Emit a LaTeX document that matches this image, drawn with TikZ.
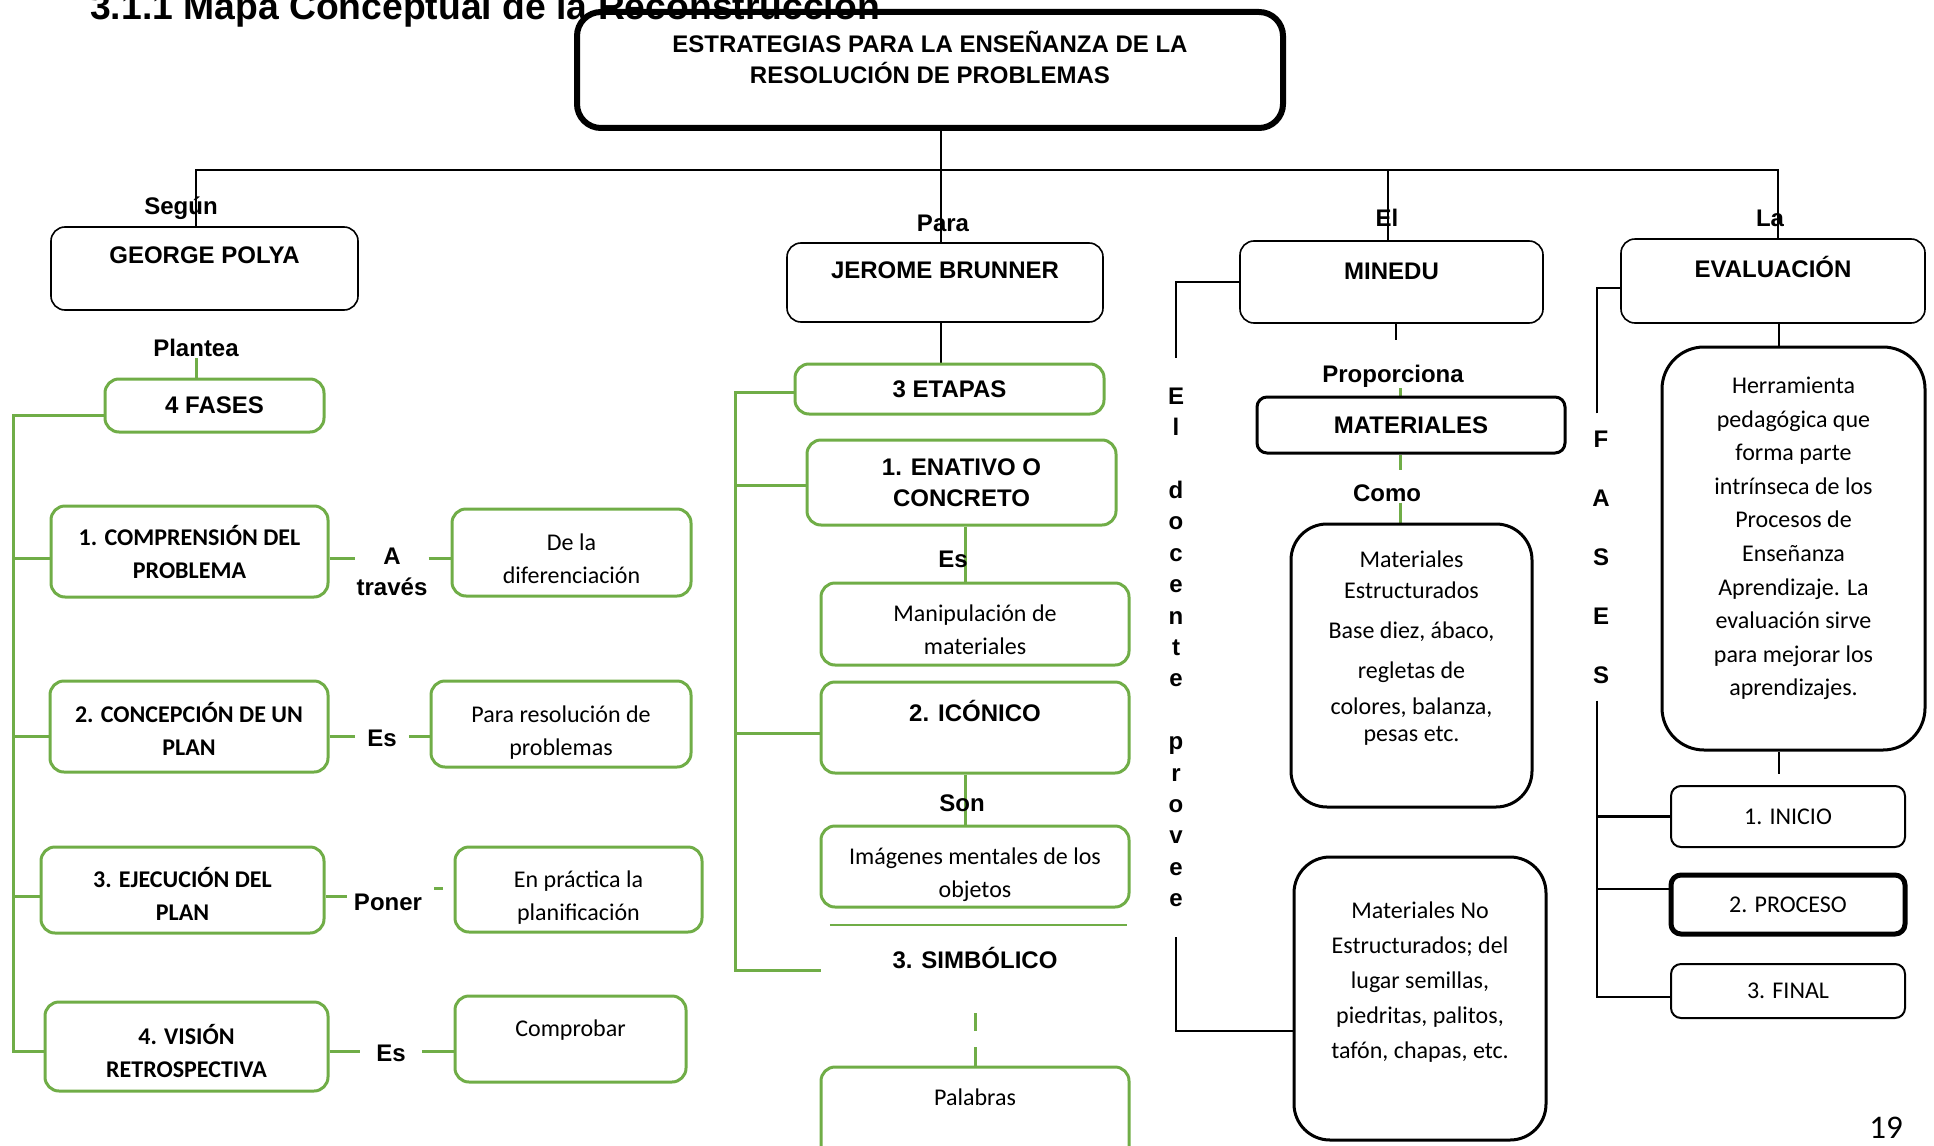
\documentclass[tikz,border=0pt]{standalone}
\usepackage{fontspec}
\setmainfont{Liberation Sans}
\newfontfamily\calibri{Carlito}
\usetikzlibrary{backgrounds}
\definecolor{grn}{HTML}{70AD47}

\begin{document}
\begin{tikzpicture}[
  x=1pt, y=-1pt,
  hd/.style={font=\bfseries\fontsize{24}{31}\selectfont, align=center, inner sep=1pt},
  cb/.style={font=\calibri\bfseries\fontsize{24}{33}\selectfont, align=center, inner sep=1pt},
  cr/.style={font=\calibri\fontsize{24}{33}\selectfont, align=center, inner sep=1pt},
  sz/.style 2 args={minimum width=#1pt, minimum height=#2pt},
  bbox/.style={draw, line width=1.6pt, rounded corners=14pt, align=center, inner sep=0pt},
  gbox/.style={draw=grn, line width=3pt, rounded corners=14pt, align=center, inner sep=0pt},
  wbox/.style={draw, line width=3pt, rounded corners=36pt, align=center, inner sep=0pt},
  sbox/.style={draw, line width=2pt, rounded corners=10pt, align=center},
  bline/.style={draw=black, line width=2.5pt},
  gline/.style={draw=grn, line width=3pt}]
\useasboundingbox (0,0) rectangle (1934,1145);
\clip (0,0) rectangle (1934,1145);
% ---------- title and root
\node[font=\bfseries\fontsize{37.3}{40}\selectfont, anchor=base west, inner sep=0pt] (title) at (90,20) {3.1.1 Mapa Conceptual de la Reconstrucción};
\node[draw, line width=6pt, rounded corners=24pt, sz={706}{116},
      label={[hd, yshift=12.5pt]center:{ESTRATEGIAS PARA LA ENSEÑANZA DE LA\\RESOLUCIÓN DE PROBLEMAS}}] (main) at (930,70) {};
% ---------- george polya
\node[bbox, sz={307}{83}, label={[hd, yshift=13.5pt]center:GEORGE POLYA}] (polya) at (204.5,268.5) {};
\node[hd] (segun) at (181,208) {Según};
\node[hd] (plantea) at (196,348) {Plantea};
\node[gbox, sz={219}{53}, hd] (fases) at (214.5,405.5) {4 FASES};
\node[gbox, sz={277}{91}, cb] (comp) at (189.5,551.5) {1. COMPRENSIÓN DEL\\PROBLEMA};
\node[gbox, sz={239}{87}, label={[cr, yshift=-6pt]center:{De la\\diferenciación}}] (difer) at (571.5,552.5) {};
\node[hd] (atr) at (392,572) {A\\través};
\node[gbox, sz={278}{91}, label={[cb, yshift=-2pt]center:{2. CONCEPCIÓN DE UN\\PLAN}}] (plan) at (189,726.5) {};
\node[gbox, sz={260}{86}, label={[cr, yshift=-8.5pt]center:{Para resolución de\\problemas}}] (parares) at (561,724) {};
\node[hd, inner xsep=12pt] (es1) at (382,738) {Es};
\node[gbox, sz={283}{86}, label={[cb, yshift=-3.7pt]center:{3. EJECUCIÓN DEL\\PLAN}}] (ejec) at (182.5,890) {};
\node[gbox, sz={247}{85}, label={[cr, yshift=-8pt]center:{En práctica la\\planificación}}] (practica) at (578.5,889.5) {};
\node[hd, inner xsep=7pt] (poner) at (388,902) {Poner};
\node[gbox, sz={283}{89}, label={[cb, yshift=-4.3pt]center:{4. VISIÓN\\RETROSPECTIVA}}] (vision) at (186.5,1046.5) {};
\node[gbox, sz={231}{86}, label={[cr, yshift=9pt]center:Comprobar}] (comprobar) at (570.5,1039) {};
\node[hd, inner xsep=16pt] (es2) at (391,1053) {Es};
% ---------- jerome brunner
\node[bbox, sz={316}{79}, label={[hd, yshift=12.5pt]center:JEROME BRUNNER}] (jerome) at (945,282.5) {};
\node[hd] (para) at (943,223) {Para};
\node[gbox, sz={309}{50}, hd] (etapas) at (949.5,389) {3 ETAPAS};
\node[gbox, sz={309}{85}, hd] (enativo) at (961.5,482.5) {1. ENATIVO O\\CONCRETO};
\node[hd] (es3) at (953,559) {Es};
\node[gbox, sz={308}{82}, label={[cr, yshift=-6pt]center:{Manipulación de\\materiales}}] (manip) at (975,624) {};
\node[gbox, sz={308}{91}, label={[hd, yshift=16.5pt]center:2. ICÓNICO}] (iconico) at (975,727.5) {};
\node[hd] (son) at (962,803) {Son};
\node[gbox, sz={308}{81}, label={[cr, yshift=-8pt]center:{Imágenes mentales de los\\objetos}}] (imagen) at (975,866.5) {};
\node[hd, sz={308}{66}] (simb) at (975,958) {3. SIMBÓLICO};
\node[gbox, sz={308}{93}, label={[cr, yshift=16.5pt]center:Palabras}] (palabras) at (975,1113.5) {};
% ---------- minedu
\node[bbox, sz={303}{82}, label={[hd, yshift=11pt]center:MINEDU}] (minedu) at (1391.5,282) {};
\node[hd] (el) at (1387,218) {El};
\node[hd, font=\bfseries\fontsize{24}{31.4}\selectfont, inner ysep=30pt] (docente) at (1176,647.3)
      {E\\l\\[31.4pt]d\\o\\c\\e\\n\\t\\e\\[31.4pt]p\\r\\o\\v\\e\\e};
\node[hd] (prop) at (1393,376) {Proporciona};
\node[draw, line width=3pt, rounded corners=10pt, sz={308}{56}, hd] (mat) at (1411,425) {MATERIALES};
\node[hd] (como) at (1387,493) {Como};
\node[wbox, sz={241}{283}, label={[cr, font=\calibri\fontsize{24}{31}\selectfont, yshift=17pt]center:{Materiales\\Estructurados\\[9pt]Base diez, ábaco,\\[9pt]regletas de\\[5pt]colores, balanza,\\[-4pt]pesas etc.}}] (estr) at (1411.5,665.5) {};
\node[wbox, sz={252}{283}, label={[cr, font=\calibri\fontsize{24}{35}\selectfont, yshift=16pt]center:{Materiales No\\Estructurados; del\\lugar semillas,\\piedritas, palitos,\\tafón, chapas, etc.}}] (noestr) at (1420,998.5) {};
% ---------- evaluacion
\node[bbox, sz={304}{84}, label={[hd, yshift=14pt]center:EVALUACIÓN}] (evalua) at (1773,281) {};
\node[hd] (la) at (1770,218) {La};
\node[hd, font=\bfseries\fontsize{24}{59}\selectfont, inner ysep=17pt] (fasesv) at (1601,557) {F\\A\\S\\E\\S};
\node[wbox, rounded corners=42pt, sz={263}{403}, label={[cr, font=\calibri\fontsize{24}{33.6}\selectfont, yshift=10pt]center:{Herramienta\\pedagógica que\\forma parte\\intrínseca de los\\Procesos de\\Enseñanza\\Aprendizaje. La\\evaluación sirve\\para mejorar los\\aprendizajes.}}] (herr) at (1793.5,548.5) {};
\node[sbox, sz={234}{61}, cr] (inicio) at (1788,816.5) {1. INICIO};
\node[sbox, line width=5pt, sz={234}{59}, cr] (proceso) at (1788,904.5) {2. PROCESO};
\node[sbox, sz={234}{54}, cr] (final) at (1788,991) {3. FINAL};
\node[font=\calibri\fontsize{33}{36}\selectfont, inner sep=0pt] (pagenum) at (1886,1128) {19};
% ---------- edges
\coordinate (hub) at (941,170);
\coordinate (barL) at (196,170);
\coordinate (barR) at (1778,170);
\coordinate (elx) at (1388,170);
\coordinate (s0) at (13.5,415);
\coordinate (s1) at (13.5,558);
\coordinate (s2) at (13.5,736);
\coordinate (s3) at (13.5,896);
\coordinate (s4) at (13.5,1051);
\coordinate (dashA) at (434,888);
\coordinate (dashB) at (443,888);
\coordinate (t0) at (735,392);
\coordinate (t1) at (735,485);
\coordinate (t2) at (735,733);
\coordinate (t3) at (735,970);
\coordinate (jx) at (965,0);
\coordinate (mx) at (1400,0);
\coordinate (propTop) at (1396,340);
\coordinate (ex) at (1779,0);
\coordinate (vx) at (1597,0);
\coordinate (ew) at ([yshift=-7pt]evalua.west);
\coordinate (pw) at ([yshift=15.5pt]proceso.west);
\coordinate (fw) at ([yshift=-6pt]final.west);
\coordinate (nw) at ([yshift=-32.5pt]noestr.west);
\begin{scope}[on background layer]
\draw[bline] (main.south -| hub) -- (hub);
\draw[bline] (polya.north -| barL) -- (barL) -- (barR) -- (evalua.north -| barR);
\draw[bline] (hub) -- (jerome.north -| hub);
\draw[bline] (elx) -- (minedu.north -| elx);
% polya
\draw[gline] (plantea.south) -- (fases.north -| plantea.south);
\draw[gline] (fases.west |- s0) -- (s0) -- (s4) -- (vision.west |- s4);
\draw[gline] (s1) -- (comp.west |- s1);
\draw[gline] (s2) -- (plan.west |- s2);
\draw[gline] (s3) -- (ejec.west |- s3);
\draw[gline] (comp.east |- s1) -- (atr.west |- s1);
\draw[gline] (atr.east |- s1) -- (difer.west |- s1);
\draw[gline] (plan.east |- s2) -- (es1.west |- s2);
\draw[gline] (es1.east |- s2) -- (parares.west |- s2);
\draw[gline] (ejec.east |- s3) -- (poner.west |- s3);
\draw[gline] (dashA) -- (dashB);
\draw[gline] (vision.east |- s4) -- (es2.west |- s4);
\draw[gline] (es2.east |- s4) -- (comprobar.west |- s4);
% brunner
\draw[bline] (jerome.south -| hub) -- (etapas.north -| hub);
\draw[gline] (etapas.west |- t0) -- (t0) -- (t3) -- (simb.west |- t3);
\draw[gline] (t1) -- (enativo.west |- t1);
\draw[gline] (t2) -- (iconico.west |- t2);
\draw[gline] (enativo.south -| jx) -- (manip.north -| jx);
\draw[gline] (iconico.south -| jx) -- (imagen.north -| jx);
\draw[grn, line width=1.5pt, shorten <=9pt, shorten >=2pt] (simb.north west) -- (simb.north east);
\draw[gline, dash pattern=on 0pt off 22pt on 18pt off 16pt on 20pt] (simb.south) -- (palabras.north);
% minedu
\draw[bline] (minedu.south -| propTop) -- (propTop);
\draw[gline] (prop.south -| mx) -- (mat.north -| mx);
\draw[gline, shorten >=13pt] (mat.south -| mx) -- (como.north -| mx);
\draw[gline] (como.south -| mx) -- (estr.north -| mx);
\draw[bline] (docente.north) |- (minedu.west);
\draw[bline] (docente.south) |- (nw);
% evaluacion
\draw[bline] (evalua.south -| ex) -- (herr.north -| ex);
\draw[bline, shorten >=11pt] (herr.south -| ex) -- (inicio.north -| ex);
\draw[bline] (fasesv.north -| vx) |- (ew);
\draw[bline] (fasesv.south -| vx) |- (fw);
\draw[bline] (inicio.west -| vx) -- (inicio.west);
\draw[bline] (pw -| vx) -- (pw);
\end{scope}
\end{tikzpicture}
\end{document}
